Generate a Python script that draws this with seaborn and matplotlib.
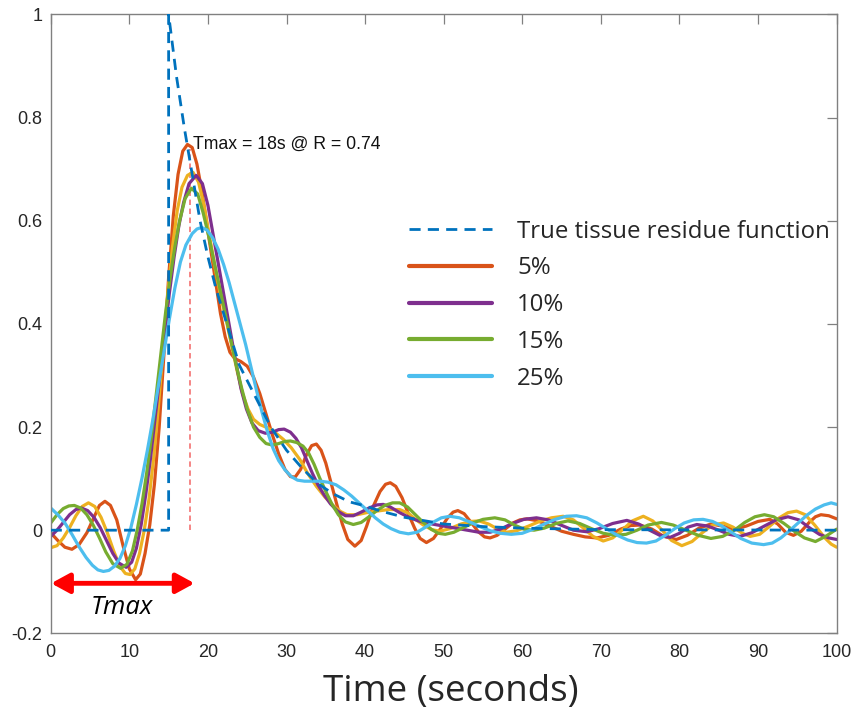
import numpy as np
import pandas as pd
import matplotlib
matplotlib.use("Agg")
import matplotlib.pyplot as plt
import seaborn as sns
from matplotlib.lines import Line2D

# ---------------- data ----------------
true_t = [0, 15, 15, 15.5, 16, 16.5, 17, 17.5, 18, 18.5, 19, 19.5, 20, 21, 22, 23, 24, 26, 28, 30, 32, 34, 36,
          38, 40, 42, 45, 50, 55, 60, 70, 100]
true_r = [0, 0, 1.0, 0.94, 0.88, 0.83, 0.78, 0.735, 0.69, 0.645, 0.60, 0.565, 0.53, 0.47, 0.42, 0.37, 0.32,
          0.26, 0.20, 0.155, 0.12, 0.09, 0.07, 0.055, 0.047, 0.037, 0.025, 0.012, 0.007, 0.004, 0.001, 0.0]

t_5 = [0, 0.9, 1.8, 2.7, 3.6, 4.6, 5.5, 6.2, 6.9, 7.6, 8.4, 9.2, 10.0, 10.8, 11.4, 12.0, 12.6, 13.2, 13.8, 14.4,
       15.0, 15.6, 16.2, 16.8, 17.4, 18.0, 18.6, 19.2, 19.8, 20.4, 21.0, 21.6, 22.2, 22.8, 23.4, 24.2, 25.0, 25.8,
       26.6, 27.4, 28.2, 29.0, 29.8, 30.5, 31.1, 31.8, 32.5, 33.2, 33.8, 34.4, 35.0, 35.7, 36.4, 37.1, 37.8, 38.7,
       39.5, 40.2, 41.0, 41.9, 42.6, 43.2, 43.9, 44.7, 45.5, 46.3, 47.0, 47.8, 48.7, 49.6, 50.5, 51.2, 51.8, 52.6,
       53.5, 54.4, 55.2, 55.9, 56.8, 57.8, 58.8, 59.7, 60.6, 62.0, 63.5, 65.0, 66.5, 68.0, 69.5, 71.0, 72.5, 73.8,
       75.0, 76.5, 78.0, 79.6, 81.0, 82.5, 84.0, 85.5, 87.0, 88.5, 90.0, 91.5, 92.5, 93.5, 94.5, 95.5, 96.5, 97.3,
       98.0, 99.0, 100]
r_5 = [-0.005, -0.02, -0.033, -0.037, -0.028, -0.005, 0.025, 0.048, 0.056, 0.048, 0.02, -0.03, -0.075, -0.096,
       -0.085, -0.045, 0.01, 0.09, 0.2, 0.34, 0.49, 0.61, 0.69, 0.735, 0.748, 0.742, 0.71, 0.66, 0.6, 0.54, 0.48,
       0.42, 0.375, 0.345, 0.333, 0.327, 0.318, 0.297, 0.265, 0.225, 0.185, 0.148, 0.118, 0.104, 0.103, 0.118,
       0.145, 0.164, 0.167, 0.155, 0.13, 0.09, 0.05, 0.012, -0.018, -0.031, -0.02, 0.008, 0.045, 0.075, 0.089,
       0.092, 0.085, 0.063, 0.032, 0.004, -0.016, -0.024, -0.016, 0.003, 0.024, 0.035, 0.038, 0.032, 0.015,
       -0.003, -0.013, -0.015, -0.01, 0.002, 0.014, 0.02, 0.022, 0.018, 0.008, -0.002, -0.008, -0.013, -0.015,
       -0.01, 0.002, 0.009, 0.01, 0.002, -0.012, -0.018, -0.01, 0.004, 0.012, 0.008, 0.002, 0.008, 0.017, 0.021,
       0.012, -0.004, -0.01, -0.002, 0.015, 0.026, 0.03, 0.028, 0.022]

t_y = [0, 0.8, 1.6, 2.4, 3.2, 4.0, 4.8, 5.6, 6.4, 7.2, 8.0, 8.8, 9.5, 10.1, 10.7, 11.3, 11.9, 12.5, 13.1, 13.7,
       14.3, 14.9, 15.5, 16.1, 16.7, 17.4, 18.1, 18.8, 19.5, 20.2, 20.9, 21.6, 22.3, 23.0, 23.7, 24.4, 25.1, 25.8,
       26.6, 27.5, 28.5, 29.6, 30.6, 31.7, 32.7, 33.8, 34.9, 36.0, 36.9, 37.7, 39.0, 40.2, 41.5, 43.0, 44.4, 45.5,
       46.5, 47.4, 48.5, 49.5, 50.8, 52.2, 53.5, 54.5, 55.7, 56.9, 58.0, 59.3, 60.8, 62.2, 63.7, 65.2, 66.5, 67.7,
       69.0, 70.3, 71.5, 72.7, 74.0, 75.4, 76.6, 77.8, 79.0, 80.3, 81.6, 82.9, 84.2, 85.6, 86.8, 88.0, 89.0, 90.2,
       91.5, 92.7, 93.8, 94.9, 96.0, 97.2, 98.5, 99.3, 100]
r_y = [-0.034, -0.03, -0.015, 0.005, 0.028, 0.046, 0.053, 0.046, 0.025, -0.005, -0.04, -0.07, -0.084, -0.086,
       -0.075, -0.045, 0.0, 0.06, 0.14, 0.24, 0.35, 0.46, 0.55, 0.62, 0.665, 0.688, 0.694, 0.675, 0.63, 0.57,
       0.51, 0.455, 0.41, 0.36, 0.31, 0.265, 0.235, 0.215, 0.205, 0.199, 0.19, 0.176, 0.16, 0.137, 0.11, 0.085,
       0.064, 0.047, 0.036, 0.03, 0.03, 0.034, 0.037, 0.04, 0.04, 0.033, 0.02, 0.01, 0.001, -0.002, 0.003, 0.012,
       0.017, 0.018, 0.012, 0.002, -0.004, -0.001, 0.008, 0.017, 0.024, 0.027, 0.02, 0.005, -0.012, -0.021,
       -0.015, 0.0, 0.018, 0.027, 0.018, 0.0, -0.02, -0.03, -0.022, -0.005, 0.01, 0.014, 0.006, -0.006, -0.012,
       -0.008, 0.008, 0.024, 0.034, 0.037, 0.03, 0.01, -0.015, -0.027, -0.033]

t_10 = [0, 0.8, 1.6, 2.4, 3.2, 3.9, 4.7, 5.5, 6.3, 7.1, 7.9, 8.7, 9.6, 10.3, 10.9, 11.5, 12.1, 12.7, 13.3, 13.9,
        14.5, 15.1, 15.7, 16.3, 16.9, 17.6, 18.5, 19.3, 20.0, 20.7, 21.4, 22.1, 22.8, 23.5, 24.2, 24.9, 25.6,
        26.4, 27.3, 28.2, 29.0, 29.7, 30.5, 31.2, 31.9, 32.6, 33.3, 34.0, 34.8, 35.6, 36.5, 37.5, 38.5, 39.5,
        40.5, 41.5, 42.3, 43.2, 44.4, 45.7, 47.0, 48.5, 50.0, 51.5, 53.0, 54.5, 55.9, 57.2, 58.6, 60.2, 61.8,
        63.3, 64.9, 66.5, 68.2, 69.8, 71.5, 73.3, 74.8, 76.2, 77.5, 78.8, 80.0, 81.1, 82.2, 83.6, 85.0, 86.3,
        87.7, 89.2, 90.8, 92.3, 93.8, 95.2, 96.5, 97.8, 99.0, 100]
r_10 = [-0.012, 0.0, 0.015, 0.03, 0.04, 0.043, 0.038, 0.025, 0.005, -0.02, -0.045, -0.064, -0.072, -0.062,
        -0.035, 0.01, 0.07, 0.14, 0.22, 0.3, 0.38, 0.46, 0.53, 0.59, 0.635, 0.672, 0.688, 0.672, 0.63, 0.57, 0.51,
        0.45, 0.39, 0.33, 0.275, 0.235, 0.208, 0.193, 0.188, 0.19, 0.195, 0.196, 0.19, 0.178, 0.16, 0.135, 0.11,
        0.088, 0.068, 0.051, 0.037, 0.028, 0.028, 0.035, 0.043, 0.049, 0.05, 0.045, 0.034, 0.024, 0.017, 0.012,
        0.008, 0.004, 0.0, -0.004, -0.004, 0.002, 0.012, 0.021, 0.024, 0.02, 0.01, 0.0, -0.003, 0.003, 0.013,
        0.019, 0.012, 0.0, -0.01, -0.014, -0.006, 0.006, 0.011, 0.008, 0.0, -0.008, -0.012, -0.005, 0.008, 0.02,
        0.026, 0.02, 0.005, -0.008, -0.015, -0.018]

t_15 = [0, 0.8, 1.6, 2.3, 3.0, 3.8, 4.6, 5.4, 6.2, 7.0, 7.9, 8.9, 9.7, 10.4, 11.0, 11.6, 12.2, 12.8, 13.4, 14.0,
        14.6, 15.2, 15.8, 16.4, 17.1, 17.9, 18.7, 19.4, 20.1, 20.8, 21.5, 22.2, 22.9, 23.6, 24.3, 25.0, 25.8,
        26.6, 27.4, 28.2, 29.0, 29.8, 30.5, 31.3, 32.1, 32.8, 33.5, 34.2, 35.0, 35.8, 36.6, 37.5, 38.5, 39.5,
        40.5, 41.5, 42.5, 43.5, 44.4, 45.4, 46.4, 47.4, 48.4, 49.3, 50.2, 51.3, 52.5, 53.7, 55.0, 56.5, 57.8,
        59.0, 60.2, 61.5, 62.8, 64.3, 65.8, 67.3, 68.8, 70.3, 71.8, 73.2, 74.6, 76.0, 77.7, 79.2, 80.8, 82.4,
        84.0, 85.5, 87.0, 88.3, 89.6, 90.8, 92.0, 93.3, 94.6, 95.9, 97.3, 98.6, 100]
r_15 = [0.014, 0.03, 0.042, 0.047, 0.048, 0.043, 0.03, 0.01, -0.015, -0.042, -0.065, -0.074, -0.066, -0.04, 0.0,
        0.05, 0.11, 0.18, 0.26, 0.34, 0.42, 0.49, 0.55, 0.6, 0.643, 0.663, 0.652, 0.615, 0.57, 0.52, 0.47, 0.42,
        0.37, 0.32, 0.275, 0.235, 0.2, 0.18, 0.168, 0.165, 0.168, 0.172, 0.173, 0.17, 0.163, 0.15, 0.128, 0.102,
        0.075, 0.05, 0.03, 0.016, 0.011, 0.015, 0.026, 0.038, 0.048, 0.053, 0.053, 0.045, 0.03, 0.015, 0.002,
        -0.006, -0.008, -0.004, 0.005, 0.014, 0.021, 0.024, 0.02, 0.01, 0.002, 0.0, 0.004, 0.013, 0.018, 0.013,
        0.003, -0.006, -0.01, -0.008, 0.0, 0.01, 0.015, 0.01, 0.0, -0.01, -0.016, -0.012, 0.0, 0.015, 0.026, 0.03,
        0.026, 0.013, -0.002, -0.015, -0.022, -0.012, 0.002]

t_25 = [0, 0.9, 1.8, 2.7, 3.6, 4.5, 5.3, 6.0, 6.7, 7.4, 8.1, 8.8, 9.5, 10.2, 10.9, 11.6, 12.3, 13.0, 13.7, 14.4,
        15.1, 15.8, 16.5, 17.2, 18.0, 18.6, 19.2, 19.9, 20.6, 21.3, 22.0, 22.7, 23.4, 24.1, 24.8, 25.5, 26.2,
        26.9, 27.6, 28.3, 29.0, 29.8, 30.6, 31.4, 32.3, 33.3, 34.3, 35.3, 36.3, 37.3, 38.3, 39.3, 40.3, 41.3,
        42.3, 43.3, 44.4, 45.5, 46.6, 47.6, 48.6, 49.7, 50.8, 52.0, 53.3, 54.6, 55.9, 57.2, 58.6, 60.0, 61.4,
        62.8, 64.2, 65.6, 66.9, 68.2, 69.5, 70.8, 72.1, 73.4, 74.6, 75.8, 77.0, 78.2, 79.4, 80.6, 81.8, 83.0,
        84.2, 85.4, 86.6, 87.8, 89.2, 90.7, 91.8, 92.9, 94.0, 95.1, 96.2, 97.3, 98.4, 99.3, 100]
r_25 = [0.043, 0.03, 0.014, -0.008, -0.032, -0.053, -0.068, -0.077, -0.08, -0.078, -0.07, -0.055, -0.03, 0.005,
        0.05, 0.1, 0.155, 0.215, 0.28, 0.345, 0.41, 0.47, 0.52, 0.553, 0.575, 0.584, 0.587, 0.582, 0.567, 0.545,
        0.515, 0.48, 0.44, 0.4, 0.36, 0.315, 0.27, 0.228, 0.19, 0.158, 0.135, 0.117, 0.104, 0.097, 0.095, 0.095,
        0.095, 0.093, 0.088, 0.078, 0.066, 0.052, 0.038, 0.024, 0.012, 0.003, -0.004, -0.007, -0.004, 0.005,
        0.015, 0.024, 0.027, 0.024, 0.016, 0.007, -0.001, -0.006, -0.008, -0.006, 0.002, 0.012, 0.021, 0.027,
        0.028, 0.024, 0.014, 0.002, -0.01, -0.019, -0.024, -0.025, -0.021, -0.01, 0.003, 0.014, 0.02, 0.021,
        0.017, 0.008, -0.004, -0.016, -0.025, -0.028, -0.025, -0.015, -0.001, 0.014, 0.029, 0.041, 0.049, 0.053,
        0.05]

legend_labels = ["True tissue residue function", "5%", "10%", "15%", "25%"]
x_ticks = [0, 10, 20, 30, 40, 50, 60, 70, 80, 90, 100]
y_ticks = [-0.2, 0, 0.2, 0.4, 0.6, 0.8, 1.0]
y_ticklabels = ["-0.2", "0", "0.2", "0.4", "0.6", "0.8", "1"]
tmax_value = 17.7
tmax_peak = 0.74

# ---------------- styling ----------------
sns.set_style("white")
plt.rcParams["font.family"] = ["Liberation Sans", "DejaVu Sans"]

C_TRUE = "#0072BD"
C_5 = "#D95319"
C_Y = "#EDB120"
C_10 = "#7E2F8E"
C_15 = "#77AC30"
C_25 = "#4DBEEE"
LW = 2.3

fig = plt.figure(figsize=(8.54, 7.17), dpi=100)
ax = fig.add_axes([0.0594, 0.1167, 0.9203, 0.8631])

# Tmax marker (behind curves)
ax.plot([tmax_value, tmax_value], [0, tmax_peak], ls=(0, (3, 2)), color="#F47C7C", lw=1.3, zorder=1)

for xs, ys, c in [(t_5, r_5, C_5), (t_y, r_y, C_Y), (t_10, r_10, C_10), (t_15, r_15, C_15), (t_25, r_25, C_25)]:
    sns.lineplot(x=xs, y=ys, color=c, lw=LW, ax=ax, estimator=None, sort=False, zorder=2)

sns.lineplot(x=true_t, y=true_r, color=C_TRUE, lw=2.0, ls=(0, (4, 2.6)), ax=ax,
             estimator=None, sort=False, zorder=3)

ax.set_xlim(0, 100)
ax.set_ylim(-0.2, 1.0)
ax.set_xticks(x_ticks)
ax.set_xticklabels([str(v) for v in x_ticks])
ax.set_yticks(y_ticks)
ax.set_yticklabels(y_ticklabels)
ax.tick_params(direction="in", top=True, right=True, length=7, width=0.9, color="#808080",
               labelsize=13, labelcolor="#262626")
ax.tick_params(axis="x", pad=8)
ax.tick_params(axis="y", pad=6)
for s in ax.spines.values():
    s.set_color("#808080")
    s.set_linewidth(1.0)
ax.set_xlabel("")
ax.set_ylabel("")

# annotation
ax.text(18.1, 0.748, "Tmax = 18s @ R = 0.74", fontsize=12.7, ha="left", va="center", color="#111111")

# red double arrow
ax.annotate("", xy=(18.3, -0.103), xytext=(0.05, -0.103),
            arrowprops=dict(arrowstyle="<|-|>,head_length=0.55,head_width=0.3", color="#FF0000",
                            lw=3.5, mutation_scale=20, shrinkA=0, shrinkB=0), zorder=4)
ax.text(9.1, -0.150, "Tmax", style="italic", family=["Open Sans", "DejaVu Sans"], fontsize=18.5,
        ha="center", va="center", color="black")

# legend
handles = [Line2D([], [], color=C_TRUE, lw=2.0, ls=(0, (4, 2.6))),
           Line2D([], [], color=C_5, lw=3),
           Line2D([], [], color=C_10, lw=3),
           Line2D([], [], color=C_15, lw=3),
           Line2D([], [], color=C_25, lw=3)]
ax.legend(handles, legend_labels, loc="center left", bbox_to_anchor=(0.479, 0.5745),
          bbox_transform=fig.transFigure, frameon=False,
          prop={"family": ["Open Sans", "DejaVu Sans"], "size": 17.3},
          handlelength=3.46, handletextpad=1.04, labelspacing=0.53, borderpad=0, borderaxespad=0)

fig.text(451 / 854, 1 - 692 / 717, "Time (seconds)", ha="center", va="center",
         family=["Open Sans", "DejaVu Sans"], fontsize=26.5)

fig.savefig("out.png", dpi=100)
